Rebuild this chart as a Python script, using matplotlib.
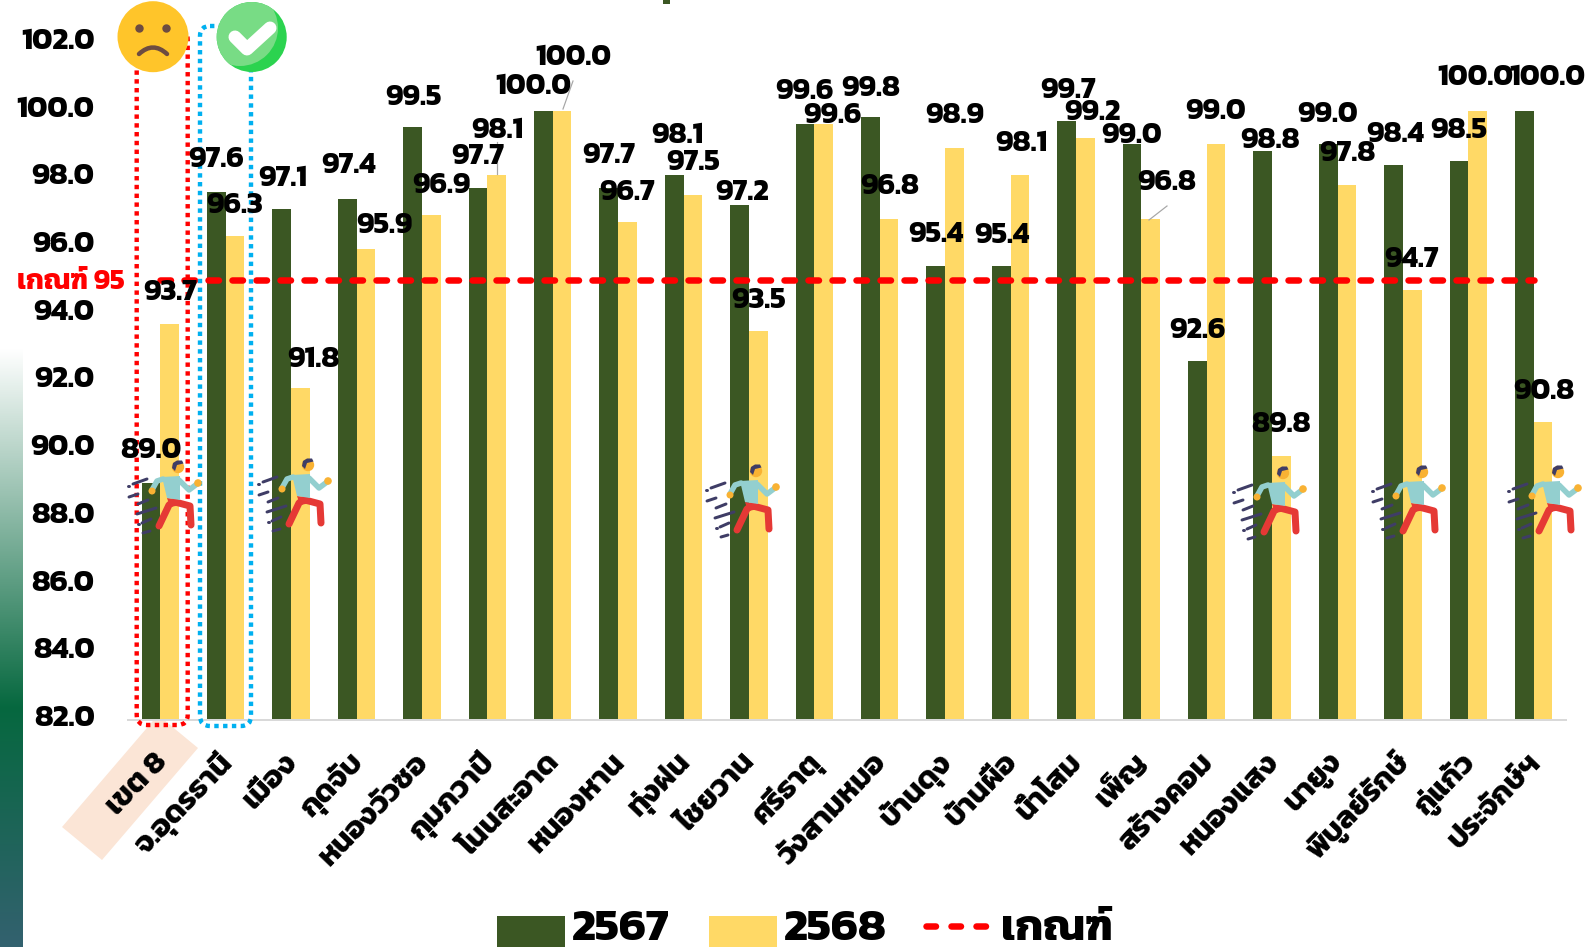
import numpy as np
import matplotlib
matplotlib.use('Agg')
import matplotlib.pyplot as plt
from matplotlib import font_manager as fm
from matplotlib.colors import LinearSegmentedColormap
from matplotlib.patches import Circle, Polygon, FancyBboxPatch, Rectangle, PathPatch
from matplotlib.path import Path
from matplotlib.lines import Line2D
from matplotlib.legend_handler import HandlerPatch
from matplotlib.transforms import ScaledTranslation

# ---------- data ----------
categories = ["เขต 8", "จ.อุดรธานี", "เมือง", "กุดจับ", "หนองวัวซอ", "กุมภวาปี", "โนนสะอาด",
              "หนองหาน", "ทุ่งฝน", "ไชยวาน", "ศรีธาตุ", "วังสามหมอ", "บ้านดุง", "บ้านผือ",
              "น้ำโสม", "เพ็ญ", "สร้างคอม", "หนองแสง", "นายูง", "พิบูลย์รักษ์", "กู่แก้ว", "ประจักษ์ฯ"]
values_2567 = [89.0, 97.6, 97.1, 97.4, 99.5, 97.7, 100.0, 97.7, 98.1, 97.2, 99.6, 99.8,
               95.4, 95.4, 99.7, 99.0, 92.6, 98.8, 99.0, 98.4, 98.5, 100.0]
values_2568 = [93.7, 96.3, 91.8, 95.9, 96.9, 98.1, 100.0, 96.7, 97.5, 93.5, 99.6, 96.8,
               98.9, 98.1, 99.2, 96.8, 99.0, 89.8, 97.8, 94.7, 100.0, 90.8]
threshold = [95.0] * len(categories)
y_ticks = [82, 84, 86, 88, 90, 92, 94, 96, 98, 100, 102]

# ---------- style / placement (pixels of the picture) ----------
W, H = 1587, 947
K = 1587 / 1568
FONT = 'Kanit'
plt.rcParams['font.family'] = [FONT, 'Noto Sans', 'DejaVu Sans']
plt.rcParams['lines.scale_dashes'] = False
GREEN, YELLOW, RED, BLUE = '#3B5723', '#FFD966', '#FF0000', '#00B0F0'
px = 72 / 100

label_xy_2567 = [(149,445),(214,158),(279,176),(344,164),(408,96),(472,155),(527,85),(602,154),
                 (669,134),(733,190),(795,90),(860,87),(925,232),(990,233),(1055,89),(1118,134),
                 (1183,327),(1255,139),(1312,113),(1378,133),(1441,129),(1529,77)]
label_xy_2568 = [(168,289),(232,203),(310,355),(380,223),(436,183),(491,129),(566,57),(620,190),
                 (685,161),(749,297),(822,114),(879,184),(943,114),(1009,142),(1079,111),(1153,180),
                 (1201,110),(1266,419),(1331,152),(1395,256),(1458,77),(1525,387)]

fig = plt.figure(figsize=(W / 100, H / 100), dpi=100, facecolor='white')

def pixel_axes(z):
    a = fig.add_axes([0, 0, 1, 1], zorder=z)
    a.set_xlim(0, W); a.set_ylim(H, 0); a.axis('off'); a.patch.set_alpha(0)
    return a

back = pixel_axes(0)
front = pixel_axes(5)
top = pixel_axes(7)

# gradient strip on the left edge
cmap = LinearSegmentedColormap.from_list('strip', [(0, '#FFFFFF'), (0.6, '#06683F'), (1, '#33616F')])
back.imshow(np.linspace(0, 1, 256)[:, None], cmap=cmap, aspect='auto', extent=(0, 23, 947, 348), zorder=1)
back.set_xlim(0, W); back.set_ylim(H, 0)
# peach highlight behind the first label
back.add_patch(Polygon([(62, 827), (102, 860), (198, 748), (158, 715)], fc='#FBE5D6', ec='none'))

# ---------- main chart ----------
ax_l, ax_r, ax_t, ax_b = 127.6, 1566.4, 42.8, 720
ax = fig.add_axes([ax_l / W, 1 - ax_b / H, (ax_r - ax_l) / W, (ax_b - ax_t) / H], zorder=2)
ax.patch.set_alpha(0)
x = np.arange(len(categories))
bw = 0.285
ax.bar(x - bw / 2, values_2567, bw, color=GREEN, label='2567', zorder=2)
ax.bar(x + bw / 2, values_2568, bw, color=YELLOW, label='2568', zorder=2)
ax.plot(x, threshold, color=RED, lw=6.5 * px, dash_capstyle='round',
        dashes=(10.5 * px, 13.5 * px), label='เกณฑ์', zorder=3)
ax.set_xlim(-0.5, len(categories) - 0.5)
ax.set_ylim(82, 102)
ax.set_yticks(y_ticks, [f'{v:.1f}' for v in y_ticks], fontsize=22, fontweight=700, color='black')
ax.set_xticks(x, categories, fontsize=22, fontweight=700, rotation=46, ha='right',
              va='center', rotation_mode='anchor', color='black')
ax.tick_params(axis='both', length=0)
ax.tick_params(axis='y', pad=33 * px)
ax.tick_params(axis='x', pad=38 * px)
for lbl in ax.get_yticklabels():
    lbl.set_transform(lbl.get_transform() + ScaledTranslation(0, 4.5 / 100, fig.dpi_scale_trans))
for lbl in ax.get_xticklabels():
    lbl.set_transform(lbl.get_transform() + ScaledTranslation(2.5 / 100, 0, fig.dpi_scale_trans))
for s in ('top', 'right', 'left'):
    ax.spines[s].set_visible(False)
ax.spines['bottom'].set_color('#D9D9D9')
ax.spines['bottom'].set_linewidth(2 * px)

# ---------- foreground shapes ----------
def dotted_box(x0, y0, x1, y1, c):
    front.add_patch(FancyBboxPatch((x0, y0), x1 - x0, y1 - y0, boxstyle='round,pad=0,rounding_size=10',
                                   fc='none', ec=c, lw=4.4 * px, linestyle=(0, (4.4 * px, 4.4 * px))))
dotted_box(136.7, 30, 187.7, 725, RED)
dotted_box(200, 26, 251, 726, BLUE)

# sad face
front.add_patch(Circle((153, 36.7), 35.5, fc='#FFC52A', ec='none', zorder=4))
for ex in (139.5, 166.5):
    front.add_patch(Circle((ex, 28.5), 4.2, fc='#6D4C41', ec='none', zorder=5))
front.add_patch(PathPatch(Path([(139, 54), (153, 41), (167, 54)], [Path.MOVETO, Path.CURVE3, Path.CURVE3]),
                          fc='none', ec='#6D4C41', lw=4.5 * px, capstyle='round', zorder=5))
# check badge
base = Circle((251.7, 37), 35, fc='#2BD34F', ec='none', zorder=4)
front.add_patch(base)
light = Circle((240, 28), 38, fc='#78DC85', ec='none', zorder=4)
front.add_patch(light)
light.set_clip_path(base)
front.plot([235, 247, 270], [37, 49, 28], color='white', lw=13 * px, solid_capstyle='round',
           solid_joinstyle='round', zorder=5)

# runners (anchored at the head)
SHIRT, SKIN, PANTS, INK = '#93CFCF', '#F9B233', '#E53935', '#3F3D66'
def runner(hx, hy):
    def seg(pts, c, w, z=5):
        p = np.array(pts, float) + (hx, hy)
        front.plot(p[:, 0], p[:, 1], color=c, lw=w * px, solid_capstyle='round', solid_joinstyle='round', zorder=z)
    def poly(pts, c, z=5):
        front.add_patch(Polygon(np.array(pts, float) + (hx, hy), fc=c, ec='none', zorder=z))
    for s in [[(-50, 19), (-49.5, 19)], [(-45, 17), (-31, 12)], [(-49, 30), (-40, 27)], [(-40, 37), (-30, 33)],
              [(-41, 47), (-22, 41)], [(-40, 57), (-39.5, 57)], [(-36, 56), (-27, 52)], [(-35, 66), (-28, 64)]]:
        seg(s, INK, 3)
    seg([(-5, 35), (-9, 38), (-19, 59)], PANTS, 7)
    seg([(-3, 35), (12, 39), (13, 58)], PANTS, 7)
    poly([(-11, 31), (2, 33), (3, 38), (-8, 40)], PANTS)
    poly([(-16, 10), (2, 9), (2, 33), (-11, 31)], SHIRT)
    seg([(-15, 12), (-21, 14), (-26, 23)], SHIRT, 5.5)
    seg([(1, 13), (11, 23), (19, 17)], SHIRT, 5.5)
    front.add_patch(Circle((hx - 26, hy + 24), 3.5, fc=SKIN, ec='none', zorder=6))
    front.add_patch(Circle((hx + 20, hy + 16), 3.8, fc=SKIN, ec='none', zorder=6))
    front.add_patch(Circle((hx, hy), 6.2, fc=SKIN, ec='none', zorder=6))
    poly([(-6, 1), (-5, -4), (-1, -6.5), (4, -6.5), (5.5, -3.5), (-1, -2), (-3, 4)], INK, 7)

for hx, hy in [(178, 467), (308, 465), (756, 471), (1283, 473), (1422, 472), (1558, 472)]:
    runner(hx, hy)

# leader lines
for p, q in [((573, 81), (563, 109)), ((497, 142), (497, 174)), ((1167, 206), (1149, 220))]:
    front.plot([p[0], q[0]], [p[1], q[1]], color='#A6A6A6', lw=1.2 * px, zorder=5)

# threshold text
top.text(71, 282, 'เกณฑ์ 95', color=RED, fontsize=20, fontweight=700, ha='center', va='center', zorder=7)

# clipped title fragment at the very top
front.add_patch(Rectangle((662.5, 0), 7.5, 4, fc=GREEN, ec='none', zorder=5))

# ---------- value labels (hand-placed in the original) ----------
for xs, vals, pos in [(x - bw / 2, values_2567, label_xy_2567), (x + bw / 2, values_2568, label_xy_2568)]:
    for xi, v, (lx, ly) in zip(xs, vals, pos):
        top.annotate(f'{v:.1f}', xy=(xi, v), xycoords=ax.transData,
                     xytext=(lx * K, H - ly * K), textcoords='figure pixels',
                     ha='center', va='center', fontsize=21.3, fontweight=700, color='black',
                     annotation_clip=False, zorder=8)

# ---------- legend ----------
def swatch(legend, orig_handle, xdescent, ydescent, width, height, fontsize):
    # swatch runs off the bottom of the picture, as in the original
    return Rectangle((-xdescent, -8 * px), width, 32 * px)

handles = [Rectangle((0, 0), 1, 1, fc=GREEN), Rectangle((0, 0), 1, 1, fc=YELLOW),
           Line2D([], [], color=RED, lw=6.5 * px, dash_capstyle='round', dashes=(9.5 * px, 15.5 * px))]
prop = fm.FontProperties(family=[FONT, 'Noto Sans', 'DejaVu Sans'], weight=700, size=33)
leg = fig.legend(handles, ['2567', '2568', 'เกณฑ์'], ncol=3, prop=prop, frameon=False,
                 loc='lower left', bbox_to_anchor=(497 / W, 1 - 949 / H), borderpad=0, borderaxespad=0,
                 handlelength=1.49, handleheight=0.45, handletextpad=0.15, columnspacing=0.85,
                 handler_map={Rectangle: HandlerPatch(patch_func=swatch)})
leg.get_texts()[2].set_fontsize(31.5)

fig.savefig('out.png', dpi=100)
